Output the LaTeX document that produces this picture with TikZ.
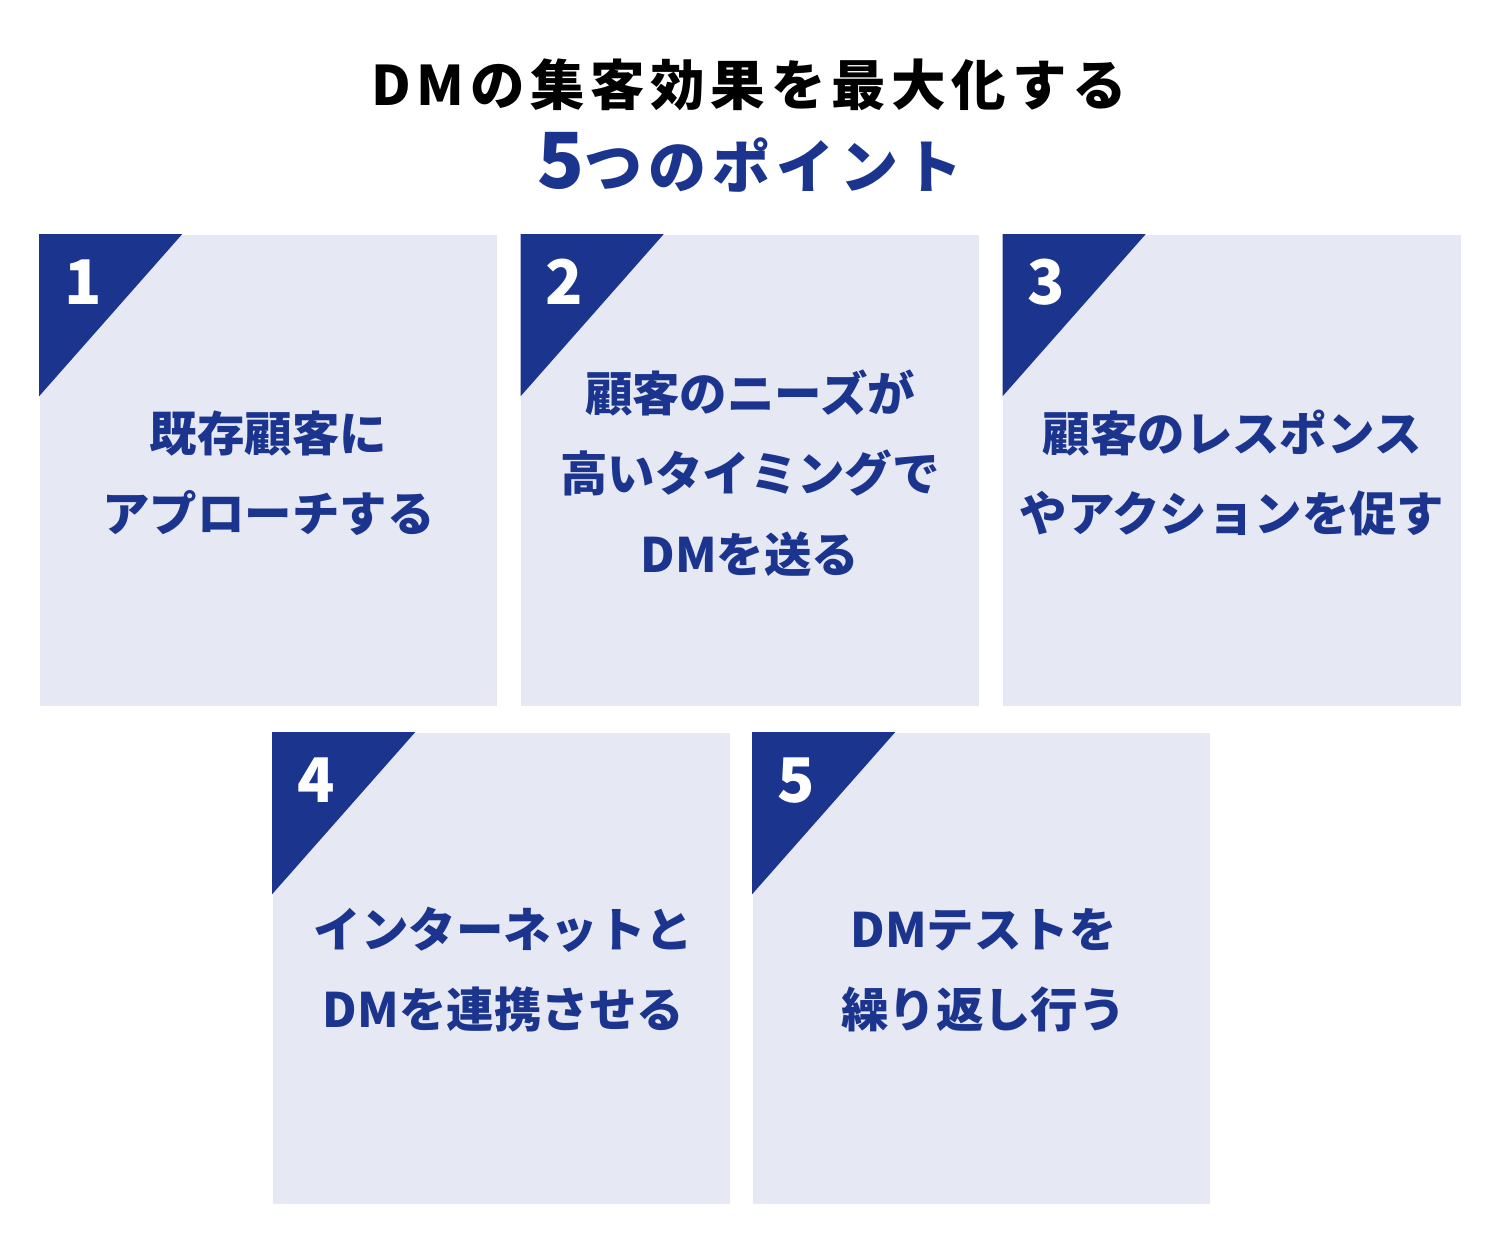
\documentclass[tikz,border=0pt]{standalone}
\usepackage{fontspec}
\usepackage{tikz}
\usetikzlibrary{positioning,calc}
\newfontfamily\jp{Noto Sans CJK JP}
\newfontfamily\jptitle{Noto Sans CJK JP}[LetterSpace=10.5]
\definecolor{navy}{RGB}{27,52,142}
\definecolor{cardfill}{RGB}{230,232,244}
\tikzset{
  card/.style={fill=cardfill, minimum width=4.57cm, minimum height=4.71cm, inner sep=0pt},
  cardtext/.style={font=\jp\bfseries\fontsize{13.5}{22.8}\selectfont, text=navy, align=center},
  badge/.style={font=\jp\bfseries\fontsize{17.5}{17.5}\selectfont, text=white, inner sep=0pt}
}

\begin{document}
\begin{tikzpicture}[x=0.01cm, y=-0.01cm]
  \fill[white] (0,0) rectangle (1500,1250);
  \useasboundingbox (0,0) rectangle (1500,1250);
  % title
  \node[font=\jptitle\bfseries\fontsize{15.5}{15.5}\selectfont, text=black] (title) at (749,85) {DMの集客効果を最大化する};
  \node[font=\jptitle\bfseries\fontsize{16.5}{16.5}\selectfont, text=navy] (sub) at (750,162) {{\fontsize{22}{22}\selectfont 5}つのポイント};
  % cards
  \node[card] (c1) at (268.5,470.5) {};
  \node[card] (c2) at (750,470.5) {};
  \node[card] (c3) at (1232,470.5) {};
  \node[card] (c4) at (501.5,968.5) {};
  \node[card] (c5) at (981.5,968.5) {};
  \foreach \i in {1,...,5}{
    \fill[navy] (c\i.north west) -- ++(143,0) -- ++(-143,162) -- cycle;
    \node[badge] (n\i) at ($(c\i.north west)+(44,48)$) {\i};
  }
  \node[cardtext] (t1) at ($(c1)+(0,2.5)$) {既存顧客に\\アプローチする};
  \node[cardtext] (t2) at ($(c2)+(0,2.5)$) {顧客のニーズが\\高いタイミングで\\DMを送る};
  \node[cardtext] (t3) at ($(c3)+(0,2.5)$) {顧客のレスポンス\\やアクションを促す};
  \node[cardtext] (t4) at ($(c4)+(2,1.5)$) {インターネットと\\DMを連携させる};
  \node[cardtext] (t5) at ($(c5)+(2,1.5)$) {DMテストを\\繰り返し行う};
\end{tikzpicture}
\end{document}
